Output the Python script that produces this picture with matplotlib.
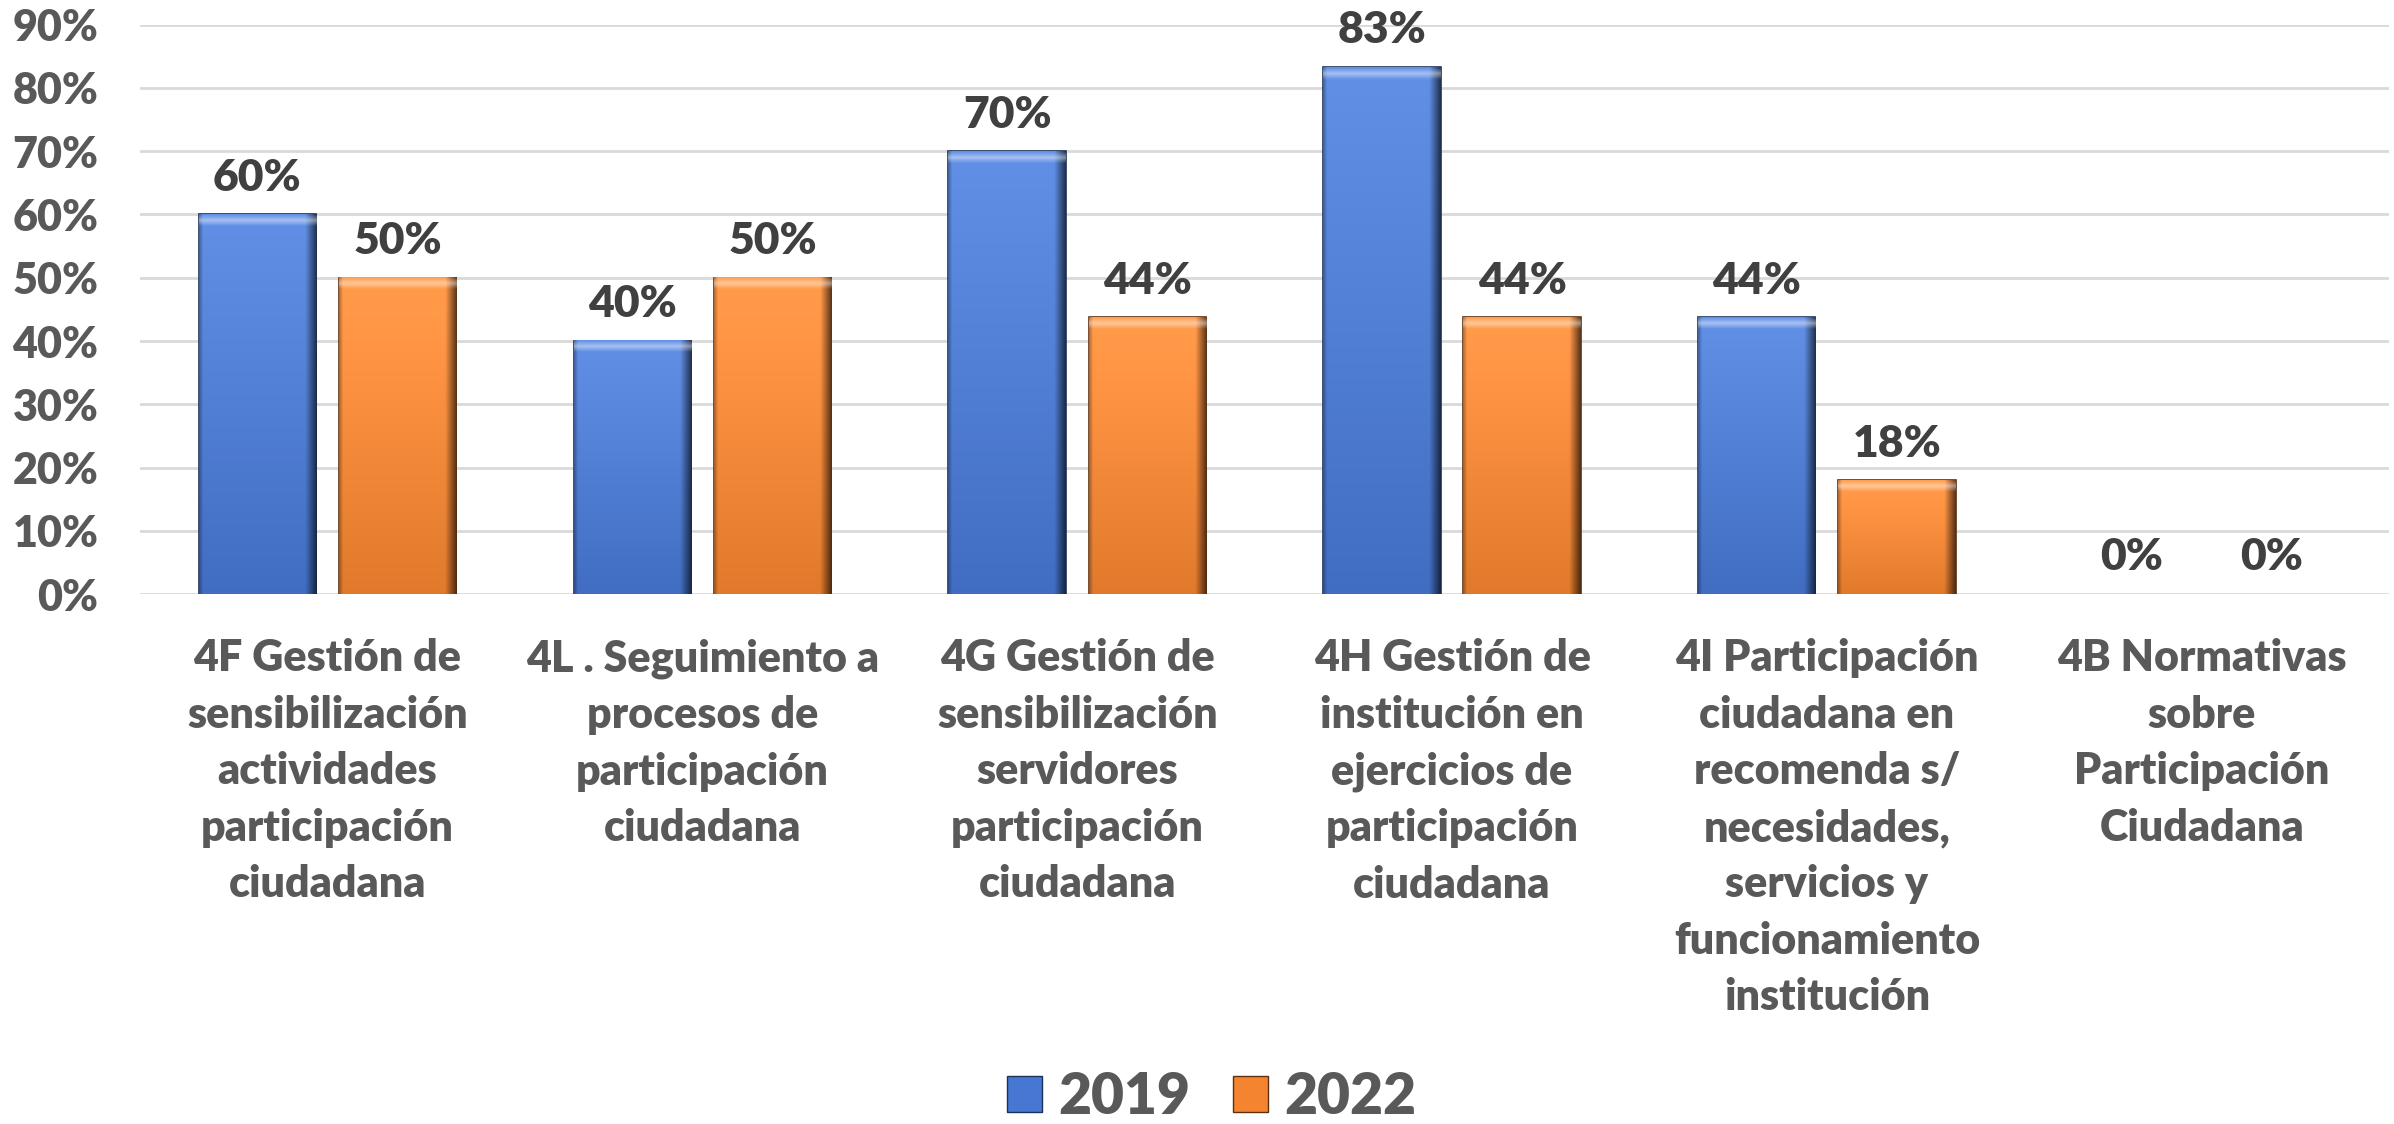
import numpy as np
import matplotlib.pyplot as plt
from matplotlib.colors import to_rgb
from matplotlib.patches import Patch

# Datos
categorias = [
    "4F Gestión de\nsensibilización\nactividades\nparticipación\nciudadana",
    "4L . Seguimiento a\nprocesos de\nparticipación\nciudadana",
    "4G Gestión de\nsensibilización\nservidores\nparticipación\nciudadana",
    "4H Gestión de\ninstitución en\nejercicios de\nparticipación\nciudadana",
    "4I Participación\nciudadana en\nrecomenda s/\nnecesidades,\nservicios y\nfuncionamiento\ninstitución",
    "4B Normativas\nsobre\nParticipación\nCiudadana",
]
valores_2019 = [0.60, 0.40, 0.70, 0.833, 0.4375, 0.0]
valores_2022 = [0.50, 0.50, 0.4375, 0.4375, 0.18, 0.0]
anios = ["2019", "2022"]
yticks = [0, 0.1, 0.2, 0.3, 0.4, 0.5, 0.6, 0.7, 0.8, 0.9]

azul = "#4677D2"
naranja = "#F4842F"
gris = "#595959"
FUENTE = "Lato"
PESO = "heavy"


def sombrear(ax, barras, base):
    # relleno con degradado y bisel, imitando el estilo 3D de Excel
    base = np.array(to_rgb(base))
    for r in barras:
        x0, y0, w, h = r.get_x(), r.get_y(), r.get_width(), r.get_height()
        if h <= 0:
            r.set_visible(False)
            continue
        ny, nx = 300, 120
        fy = np.linspace(1, 0, ny)[:, None]   # 1 arriba, 0 abajo
        fx = np.linspace(0, 1, nx)[None, :]
        # degradado vertical: mas claro arriba
        img = base[None, None, :] * (0.92 + 0.16 * fy[..., None])
        img = img + (1 - img) * (0.12 * fy[..., None])
        # borde derecho oscuro
        dx = (1 - fx) * w
        osc = np.clip(1 - dx / 0.03, 0, 1)[..., None]
        img = img * (1 - 0.65 * osc)
        # borde izquierdo un poco oscuro
        dl = fx * w
        oscl = np.clip(1 - dl / 0.01, 0, 1)[..., None]
        img = img * (1 - 0.3 * oscl)
        # bisel superior claro
        dt = (1 - fy) * h
        luz = np.clip(1 - np.abs(dt - 0.009) / 0.009, 0, 1)[..., None]
        img = img + (1 - img) * 0.45 * luz
        img = np.clip(img, 0, 1)
        ax.imshow(img, extent=[x0, x0 + w, y0, y0 + h], aspect="auto",
                  clip_path=r, zorder=3, interpolation="bilinear")


fig = plt.figure(figsize=(23.94, 11.24), dpi=100)
ax = fig.add_axes([0.0585, 0.4715, 0.9395, 0.5065])

x = np.arange(len(categorias))
ancho = 0.313
desp = 0.187
b1 = ax.bar(x - desp, valores_2019, ancho, color=azul, edgecolor="#1C3158", linewidth=1.2, zorder=2)
b2 = ax.bar(x + desp, valores_2022, ancho, color=naranja, edgecolor="#5C300E", linewidth=1.2, zorder=2)
sombrear(ax, b1, azul)
sombrear(ax, b2, naranja)

# Etiquetas de datos
for barras, vals in [(b1, valores_2019), (b2, valores_2022)]:
    for r, v in zip(barras, vals):
        ax.annotate(f"{v * 100:.0f}%", (r.get_x() + r.get_width() / 2, v),
                    xytext=(0, 17), textcoords="offset points",
                    ha="center", va="baseline", fontsize=32, fontweight=PESO,
                    family=FUENTE, color="#404040", zorder=5)

ax.set_xlim(-0.5, len(categorias) - 0.5)
ax.set_ylim(0, 0.9)
ax.set_yticks(yticks)
ax.set_yticklabels([f"{t * 100:.0f}%" for t in yticks], fontsize=31,
                   fontweight=PESO, family=FUENTE, color=gris)
ax.set_xticks(x)
ax.set_xticklabels(categorias, fontsize=31, fontweight=PESO, family=FUENTE,
                   color=gris, linespacing=1.5, va="top")
ax.tick_params(axis="both", length=0)
ax.tick_params(axis="y", pad=30)
ax.tick_params(axis="x", pad=32)

ax.grid(axis="y", color="#D9D9D9", linewidth=2, zorder=0)
ax.set_axisbelow(True)
for s in ax.spines.values():
    s.set_visible(False)

manejadores = [Patch(facecolor=azul, edgecolor="#1C3158"),
               Patch(facecolor=naranja, edgecolor="#5C300E")]
leg = fig.legend(manejadores, anios, loc="center", bbox_to_anchor=(0.506, 0.024),
                 ncol=2, frameon=False, handlelength=0.62, handleheight=0.62,
                 handletextpad=0.28, columnspacing=0.75,
                 prop={"family": FUENTE, "weight": PESO, "size": 41})
for t in leg.get_texts():
    t.set_color(gris)

fig.savefig("out.png", dpi=100)
